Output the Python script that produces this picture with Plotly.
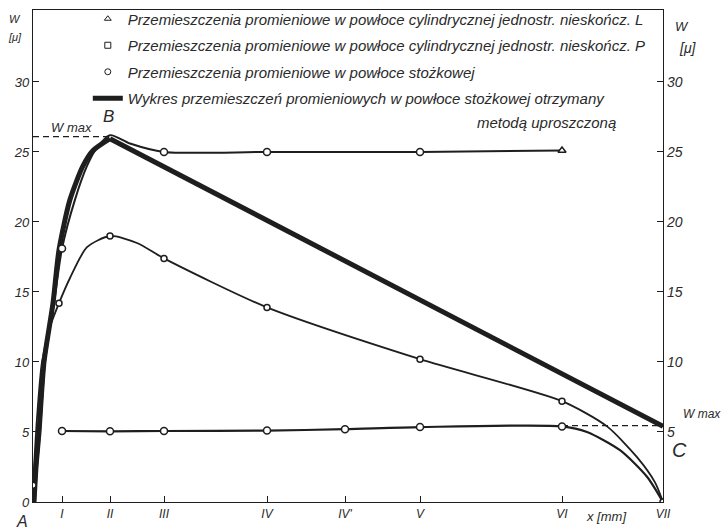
import plotly.graph_objects as go

ink = "#1e1e1e"
txt = "#2a2a2a"
FONT = "Liberation Sans"

# x positions of the section marks (x in mm, arbitrary drawing units)
tick_names = ["I", "II", "III", "IV", "IV'", "V", "VI", "VII"]
tick_pos = [29, 77, 131, 234, 312, 387, 529, 630]
y_ticks_left = [0, 5, 10, 15, 20, 25, 30]
y_ticks_right = [5, 10, 15, 20, 25, 30]

# cylindrical shell, semi-infinite, L
L_x = [2, 4, 7, 12, 21, 29, 42, 54, 62, 77, 97, 131, 234, 387, 529]
L_y = [0, 2.5, 5, 10, 14.2, 18.1, 21.6, 24.0, 25.1, 26.2, 25.6, 25.0, 25.0, 25.0, 25.1]
L_mark = ["", "", "", "", "", "circle", "", "", "", "", "", "circle", "circle", "circle", "triangle-up"]

# cylindrical shell, semi-infinite, P
P_x = [29, 77, 131, 234, 312, 387, 529, 554, 587, 614, 630]
P_y = [5.07, 5.05, 5.07, 5.1, 5.2, 5.35, 5.4, 5.0, 3.7, 1.8, 0]
P_mark = [1, 1, 1, 1, 1, 1, 1, 0, 0, 0, 0]

# conical shell
K_x = [0, 4, 9, 17, 26, 37, 54, 77, 104, 131, 234, 387, 529, 574, 604, 622, 630]
K_y = [1.2, 6, 10, 12.5, 14.2, 16.0, 18.2, 19.0, 18.5, 17.4, 13.9, 10.2, 7.2, 5.4, 3.2, 1.4, 0]
K_mark = [1, 0, 0, 0, 1, 0, 0, 1, 0, 1, 1, 1, 1, 0, 0, 0, 1]

# simplified method (thick): rising curve to B, then straight to C
S_x = [1, 3, 6, 11, 20, 26, 37, 50, 60, 77, 630]
S_y = [0, 2.5, 5, 10, 14.2, 18.0, 21.6, 24.0, 25.1, 25.95, 5.4]

wmax_B = 26.1
wmax_C = 5.45
wmax_B_x = [0, 77]
wmax_C_x = [529, 630]

legend_names = [
    "Przemieszczenia promieniowe w powłoce cylindrycznej jednostr. nieskończ. L",
    "Przemieszczenia promieniowe w powłoce cylindrycznej jednostr. nieskończ. P",
    "Przemieszczenia promieniowe w powłoce stożkowej",
    "Wykres przemieszczeń promieniowych w powłoce stożkowej otrzymany",
]
legend_line2 = "metodą uproszczoną"

fig = go.Figure()

dash = dict(color=ink, width=1.2, dash="6px,4px")
fig.add_trace(go.Scatter(x=wmax_B_x, y=[wmax_B, wmax_B], mode="lines", line=dash, showlegend=False))
fig.add_trace(go.Scatter(x=wmax_C_x, y=[wmax_C, wmax_C], mode="lines", line=dash, showlegend=False))

# thick simplified line
fig.add_trace(go.Scatter(x=S_x[:-1], y=S_y[:-1], mode="lines",
                         line=dict(color=ink, width=5, shape="spline", smoothing=0.7),
                         showlegend=False))
fig.add_trace(go.Scatter(x=S_x[-2:], y=S_y[-2:], mode="lines",
                         line=dict(color=ink, width=5), showlegend=False))
# L
fig.add_trace(go.Scatter(x=L_x, y=L_y, mode="lines",
                         line=dict(color=ink, width=2, shape="spline", smoothing=0.7),
                         showlegend=False))
# P
fig.add_trace(go.Scatter(x=P_x, y=P_y, mode="lines",
                         line=dict(color=ink, width=2.2, shape="spline", smoothing=0.7),
                         showlegend=False))
# conical
fig.add_trace(go.Scatter(x=K_x, y=K_y, mode="lines",
                         line=dict(color=ink, width=1.8, shape="spline", smoothing=0.7),
                         showlegend=False))

# markers
mk = dict(color="white", line=dict(color=ink, width=1.5))
fig.add_trace(go.Scatter(
    x=[x for x, m in zip(L_x, L_mark) if m], y=[y for y, m in zip(L_y, L_mark) if m],
    mode="markers", marker=dict(symbol=[m for m in L_mark if m], size=7, **mk), showlegend=False))
fig.add_trace(go.Scatter(
    x=[x for x, m in zip(P_x, P_mark) if m], y=[y for y, m in zip(P_y, P_mark) if m],
    mode="markers", marker=dict(symbol="circle", size=7, **mk), showlegend=False))
fig.add_trace(go.Scatter(
    x=[x for x, m in zip(K_x, K_mark) if m], y=[y for y, m in zip(K_y, K_mark) if m],
    mode="markers", marker=dict(symbol="circle", size=6, **mk), showlegend=False))

# legend entries
leg_symbols = ["triangle-up-open", "square-open", "circle-open"]
for i, (name, sym) in enumerate(zip(legend_names[:3], leg_symbols)):
    fig.add_trace(go.Scatter(x=[None], y=[None], mode="markers", name=name,
                             legendgroup=f"g{i}",
                             marker=dict(symbol=sym, size=6, color=ink, line=dict(width=1))))
fig.add_trace(go.Scatter(x=[None], y=[None], mode="lines", name=legend_names[3],
                         legendgroup="g3", line=dict(color=ink, width=5)))

ital = dict(family=FONT, color=txt, style="italic")

# layout geometry: plot area spans px x 33..663, y 10..502; paper area y 0..502
PAPER_H = 502.0


def pa(px, py, text, size):
    return dict(x=(px - 33) / 630, y=(PAPER_H - py) / PAPER_H, xref="paper", yref="paper",
                text=text, showarrow=False, xanchor="center", yanchor="middle",
                font=dict(size=size, **ital))


ann = [
    pa(546, 122, legend_line2, 15),
    pa(71, 127, "W max", 13),
    pa(108, 116, "B", 17),
    pa(702, 414, "W max", 12),
    pa(679, 450, "C", 20),
    pa(22, 521, "A", 16),
    pa(606, 516, "x [mm]", 13),
    pa(15, 19, "W", 11),
    pa(15, 37, "[μ]", 11),
    pa(682, 27, "W", 13),
    pa(688, 48, "[μ]", 14),
]

yr = [0, 35.14]
fig.update_layout(
    width=723, height=530,
    margin=dict(l=33, r=60, t=0, b=28),
    paper_bgcolor="white", plot_bgcolor="white",
    font=dict(family=FONT, color=txt, size=13, style="italic"),
    showlegend=True,
    legend=dict(x=0.087, y=0.995, xanchor="left", yanchor="top",
                bgcolor="rgba(0,0,0,0)", traceorder="grouped", tracegroupgap=4,
                font=dict(size=15, family=FONT, color=txt, style="italic"),
                itemwidth=30),
    annotations=ann,
    xaxis=dict(range=[0, 630], tickvals=tick_pos, ticktext=tick_names,
               ticks="inside", ticklen=6, tickcolor=ink, showgrid=False, zeroline=False,
               showline=True, linecolor=ink, linewidth=1.3, mirror=True,
               tickfont=dict(size=12, **ital)),
    yaxis=dict(range=yr, domain=[0, (PAPER_H - 10) / PAPER_H],
               tickvals=y_ticks_left, ticks="inside", ticklen=6, tickcolor=ink,
               showgrid=False, zeroline=False, showline=True, linecolor=ink, linewidth=1.3,
               tickfont=dict(size=13, **ital)),
    yaxis2=dict(range=yr, overlaying="y", side="right", anchor="x",
                tickvals=y_ticks_right, ticks="inside", ticklen=6, tickcolor=ink,
                showgrid=False, zeroline=False, showline=True, linecolor=ink, linewidth=1.3,
                tickfont=dict(size=14, **ital)),
)
fig.add_trace(go.Scatter(x=[None], y=[None], yaxis="y2", showlegend=False))

fig.write_html("out.html")
